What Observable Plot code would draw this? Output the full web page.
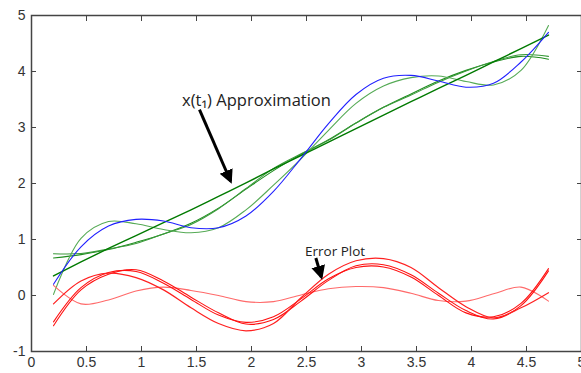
<!DOCTYPE html>
<html>
<head>
<meta charset="utf-8">
<script src="https://cdn.jsdelivr.net/npm/d3@7"></script>
<script src="https://cdn.jsdelivr.net/npm/@observablehq/plot@0.6"></script>
<style>
  html, body { margin: 0; padding: 0; background: #fff; }
  #chart svg { display: block; }
</style>
</head>
<body>
<div id="chart"></div>
<script>
// sample times t
const t = [0.2, 0.45, 0.7, 0.95, 1.2, 1.45, 1.7, 1.95, 2.2, 2.45, 2.7, 2.95, 3.2, 3.45, 3.7, 3.95, 4.2, 4.45, 4.7];

// true x(t) (blue)
const trueX = [0.2, 0.87, 1.24, 1.36, 1.33, 1.21, 1.21, 1.42, 1.86, 2.45, 3.07, 3.59, 3.88, 3.93, 3.83, 3.72, 3.79, 4.17, 4.7];

// approximations (green)
const approx1 = [0.35, 0.6, 0.84, 1.07, 1.3, 1.53, 1.77, 2.01, 2.26, 2.5, 2.74, 2.98, 3.22, 3.46, 3.7, 3.93, 4.17, 4.41, 4.65];
const approx2 = [0.67, 0.73, 0.82, 0.95, 1.1, 1.29, 1.56, 1.9, 2.23, 2.52, 2.78, 3.08, 3.36, 3.6, 3.83, 4.02, 4.17, 4.27, 4.22];
const approx3 = [0.745, 0.75, 0.83, 0.93, 1.1, 1.27, 1.55, 1.91, 2.27, 2.53, 2.77, 3.08, 3.36, 3.58, 3.81, 4.01, 4.18, 4.3, 4.27];
const approx4 = [0.02, 1.02, 1.32, 1.28, 1.18, 1.12, 1.21, 1.53, 1.97, 2.44, 2.95, 3.43, 3.74, 3.89, 3.92, 3.82, 3.76, 4.02, 4.82];

// errors (red)
const error1 = [-0.15, 0.26, 0.40, 0.32, 0.1, -0.22, -0.5, -0.63, -0.5, -0.04, 0.38, 0.62, 0.66, 0.5, 0.14, -0.2, -0.4, -0.22, 0.05];
const error2 = [-0.47, 0.14, 0.41, 0.43, 0.22, -0.07, -0.35, -0.48, -0.38, -0.06, 0.3, 0.5, 0.51, 0.33, 0.0, -0.31, -0.38, -0.14, 0.48];
const error3 = [-0.54, 0.1, 0.38, 0.46, 0.26, -0.03, -0.31, -0.51, -0.43, -0.1, 0.27, 0.53, 0.55, 0.37, 0.04, -0.27, -0.42, -0.18, 0.44];
const error4 = [0.18, -0.15, -0.08, 0.08, 0.15, 0.09, 0.0, -0.11, -0.11, 0.01, 0.12, 0.16, 0.14, 0.04, -0.09, -0.1, 0.03, 0.15, -0.1];

// ticks
const xTicks = [0, 0.5, 1, 1.5, 2, 2.5, 3, 3.5, 4, 4.5, 5];
const xTickLabels = ["0", "0.5", "1", "1.5", "2", "2.5", "3", "3.5", "4", "4.5", "5"];
const yTicks = [-1, 0, 1, 2, 3, 4, 5];
const yTickLabels = ["-1", "0", "1", "2", "3", "4", "5"];

// annotations (data coordinates)
const noteLabels = ["x(t\u2081) Approximation", "Error Plot"];
const noteX = [2.045, 2.76];
const noteY = [3.48, 0.79];
const arrowFromX = [1.527, 2.585];
const arrowFromY = [3.32, 0.67];
const arrowToX = [1.81, 2.635];
const arrowToY = [2.04, 0.33];

const seriesDefs = [
  {values: approx2, stroke: "#1e8c1e", width: 1.1},
  {values: approx3, stroke: "#3a9a3a", width: 1.1},
  {values: approx4, stroke: "#55aa55", width: 1.1},
  {values: approx1, stroke: "#007a00", width: 1.4},
  {values: trueX, stroke: "#2020ff", width: 1.1},
  {values: error4, stroke: "#ff6a6a", width: 1.1},
  {values: error2, stroke: "#ff1010", width: 1.1},
  {values: error3, stroke: "#ff1010", width: 1.1},
  {values: error1, stroke: "#ff2020", width: 1.2}
];

const lineMarks = seriesDefs.map(s =>
  Plot.line(t.map((tv, i) => ({t: tv, v: s.values[i]})), {
    x: "t", y: "v", stroke: s.stroke, strokeWidth: s.width, curve: "catmull-rom"
  })
);

const xLab = new Map(xTicks.map((d, i) => [d, xTickLabels[i]]));
const yLab = new Map(yTicks.map((d, i) => [d, yTickLabels[i]]));

const notes = noteLabels.map((s, i) => ({text: s, x: noteX[i], y: noteY[i]}));
const arrows = arrowFromX.map((d, i) => ({x1: d, y1: arrowFromY[i], x2: arrowToX[i], y2: arrowToY[i]}));

const plot = Plot.plot({
  width: 581,
  height: 373,
  marginLeft: 31,
  marginRight: 0,
  marginTop: 15,
  marginBottom: 22,
  x: {domain: [0, 5]},
  y: {domain: [-1, 5]},
  style: {background: "#fff", fontFamily: "'Liberation Sans', Arial, sans-serif", fontSize: "14px", color: "#333"},
  marks: [
    ...lineMarks,
    Plot.axisX(xTicks, {anchor: "bottom", tickSize: -5, tickPadding: 11, tickFormat: d => xLab.get(d), label: null, stroke: "#444", fill: "#333"}),
    Plot.axisX(xTicks, {anchor: "top", tickSize: -5, tickFormat: () => "", label: null, stroke: "#444"}),
    Plot.axisY(yTicks, {anchor: "left", tickSize: -5, tickPadding: 11, tickFormat: d => yLab.get(d), label: null, stroke: "#444", fill: "#333"}),
    Plot.axisY(yTicks, {anchor: "right", tickSize: -5, tickFormat: () => "", label: null, stroke: "#444"}),
    Plot.frame({stroke: "#444", strokeWidth: 1.5}),
    Plot.link(arrows, {x1: "x1", y1: "y1", x2: "x2", y2: "y2", stroke: "#000", strokeWidth: 3, className: "arrow-shaft"}),
    Plot.text(notes, {x: "x", y: "y", text: "text", textAnchor: "middle", fontSize: 16.5, fontFamily: "'Open Sans', 'Noto Sans', sans-serif", fill: "#222", filter: (d, i) => i === 0}),
    Plot.text(notes, {x: "x", y: "y", text: "text", textAnchor: "middle", fontSize: 13.5, fontFamily: "'Open Sans', 'Noto Sans', sans-serif", fill: "#222", filter: (d, i) => i === 1})
  ]
});

// filled arrowheads
const ns = "http://www.w3.org/2000/svg";
const defs = document.createElementNS(ns, "defs");
const marker = document.createElementNS(ns, "marker");
marker.setAttribute("id", "ahead");
marker.setAttribute("viewBox", "0 0 10 10");
marker.setAttribute("refX", "8");
marker.setAttribute("refY", "5");
marker.setAttribute("markerWidth", "14");
marker.setAttribute("markerHeight", "15");
marker.setAttribute("markerUnits", "userSpaceOnUse");
marker.setAttribute("orient", "auto");
const mp = document.createElementNS(ns, "path");
mp.setAttribute("d", "M0,0L10,5L0,10z");
mp.setAttribute("fill", "#000");
marker.appendChild(mp);
defs.appendChild(marker);
plot.insertBefore(defs, plot.firstChild);
plot.querySelectorAll(".arrow-shaft path, g.arrow-shaft path").forEach(p => p.setAttribute("marker-end", "url(#ahead)"));

document.getElementById("chart").appendChild(plot);
</script>
</body>
</html>
